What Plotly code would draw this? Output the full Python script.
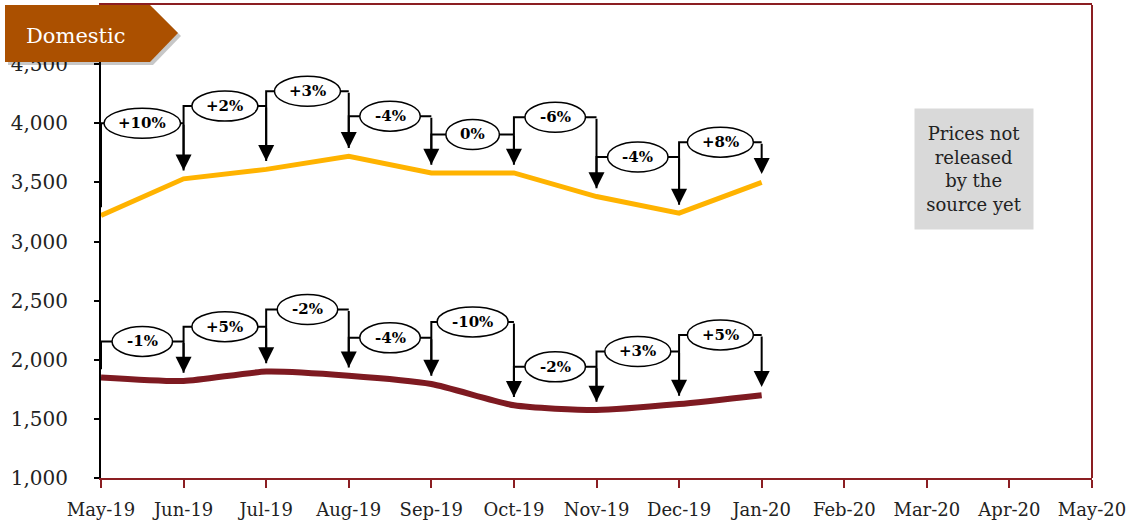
import plotly.graph_objects as go

months = ["May-19", "Jun-19", "Jul-19", "Aug-19", "Sep-19", "Oct-19", "Nov-19",
          "Dec-19", "Jan-20", "Feb-20", "Mar-20", "Apr-20", "May-20"]
y_ticks = [1000, 1500, 2000, 2500, 3000, 3500, 4000, 4500]

# price series (values up to Jan-20, later months not released)
upper_prices = [3220, 3530, 3610, 3720, 3580, 3580, 3380, 3240, 3500]
lower_prices = [1850, 1820, 1900, 1865, 1795, 1615, 1575, 1625, 1700]

upper_changes = ["+10%", "+2%", "+3%", "-4%", "0%", "-6%", "-4%", "+8%"]
lower_changes = ["-1%", "+5%", "-2%", "-4%", "-10%", "-2%", "+3%", "+5%"]

# height of each change bracket (layout only)
upper_bracket = [4000, 4145, 4270, 4060, 3905, 4050, 3715, 3840]
lower_bracket = [2155, 2280, 2425, 2185, 2320, 1940, 2070, 2210]

YELLOW = "#FFB300"
MAROON = "#7E1A21"
BORDER = "#8B1E22"
SERIF = "DejaVu Serif"
GAP = 70  # arrow tip clearance above the line

fig = go.Figure()

fig.add_trace(go.Scatter(x=list(range(len(upper_prices))), y=upper_prices, mode="lines",
                         line=dict(color=YELLOW, width=5), hoverinfo="skip"))
fig.add_trace(go.Scatter(x=list(range(len(lower_prices))), y=lower_prices, mode="lines",
                         line=dict(color=MAROON, width=6, shape="spline", smoothing=0.6),
                         hoverinfo="skip"))


def label_width(txt):
    w = {"+": 12.5, "-": 7.0, "%": 15.0}
    return 28 + sum(w.get(c, 10.5) for c in txt)


def add_brackets(prices, changes, levels):
    xs, ys = [], []
    for k, (lab, lev) in enumerate(zip(changes, levels)):
        xs += [k, k, k + 1, None]
        ys += [prices[k] + GAP, lev, lev, None]
        fig.add_annotation(x=k + 1, y=prices[k + 1] + GAP, ax=k + 1, ay=lev,
                           xref="x", yref="y", axref="x", ayref="y", text="",
                           showarrow=True, arrowhead=2, arrowsize=1.6,
                           arrowwidth=2, arrowcolor="black", standoff=0)
        w = label_width(lab)
        fig.add_shape(type="circle", xref="x", yref="y", xsizemode="pixel",
                      ysizemode="pixel", xanchor=k + 0.5, yanchor=lev,
                      x0=-w / 2, x1=w / 2, y0=-15, y1=15,
                      fillcolor="white", line=dict(color="black", width=1.5))
        fig.add_annotation(x=k + 0.5, y=lev, xref="x", yref="y", showarrow=False,
                           text="<b>%s</b>" % lab,
                           font=dict(family=SERIF, size=15, color="black"))
    fig.add_trace(go.Scatter(x=xs, y=ys, mode="lines", line=dict(color="black", width=2),
                             hoverinfo="skip"))


add_brackets(upper_prices, upper_changes, upper_bracket)
add_brackets(lower_prices, lower_changes, lower_bracket)

# right border
fig.add_shape(type="line", xref="x domain", yref="y domain", x0=1, x1=1, y0=0, y1=1,
              line=dict(color=BORDER, width=2))

# "Domestic" banner with shadow
banner = "M-96,0 L49,0 L77,-28 L49,-57 L-96,-57 Z"
shadow = "M-93,-3 L52,-3 L80,-31 L52,-60 L-93,-60 Z"
for path, col in [(shadow, "rgba(0,0,0,0.22)"), (banner, "#AB5000")]:
    fig.add_shape(type="path", path=path, xref="paper", yref="paper",
                  xsizemode="pixel", ysizemode="pixel", xanchor=0, yanchor=1,
                  fillcolor=col, line=dict(width=0))
fig.add_annotation(x=0, y=1, xref="paper", yref="paper", xanchor="left", yanchor="middle",
                   xshift=-77, yshift=-31, showarrow=False, text="Domestic",
                   font=dict(family=SERIF, size=21, color="white"))

fig.add_annotation(x=0.881, y=0.653, xref="paper", yref="paper", showarrow=False,
                   xanchor="center", yanchor="middle",
                   text="Prices not<br>released<br>by the<br>source yet",
                   width=116, height=118, bgcolor="#D9D9D9",
                   font=dict(family=SERIF, size=18, color="#222"))

fig.update_layout(
    width=1135, height=522,
    margin=dict(l=101, r=43, t=5, b=44),
    plot_bgcolor="white", paper_bgcolor="white",
    showlegend=False,
    xaxis=dict(range=[0, 12], tickvals=list(range(len(months))), ticktext=months,
               showgrid=False, zeroline=False, showline=True, linecolor=BORDER,
               linewidth=2, mirror=True, ticks="outside", ticklen=8, tickwidth=2,
               tickcolor=BORDER, ticklabelstandoff=6, automargin=False,
               tickfont=dict(family=SERIF, size=18, color="#222")),
    yaxis=dict(range=[1000, 5000], tickvals=y_ticks, tickformat=",",
               showgrid=False, zeroline=False, showline=True, linecolor="black",
               linewidth=2, ticks="outside", ticklen=5, tickwidth=2, tickcolor="black",
               ticklabelstandoff=22, automargin=False,
               tickfont=dict(family=SERIF, size=20, color="#222")),
)

fig.write_html("out.html", config={"displayModeBar": False},
               post_script="document.body.style.margin='0';")
